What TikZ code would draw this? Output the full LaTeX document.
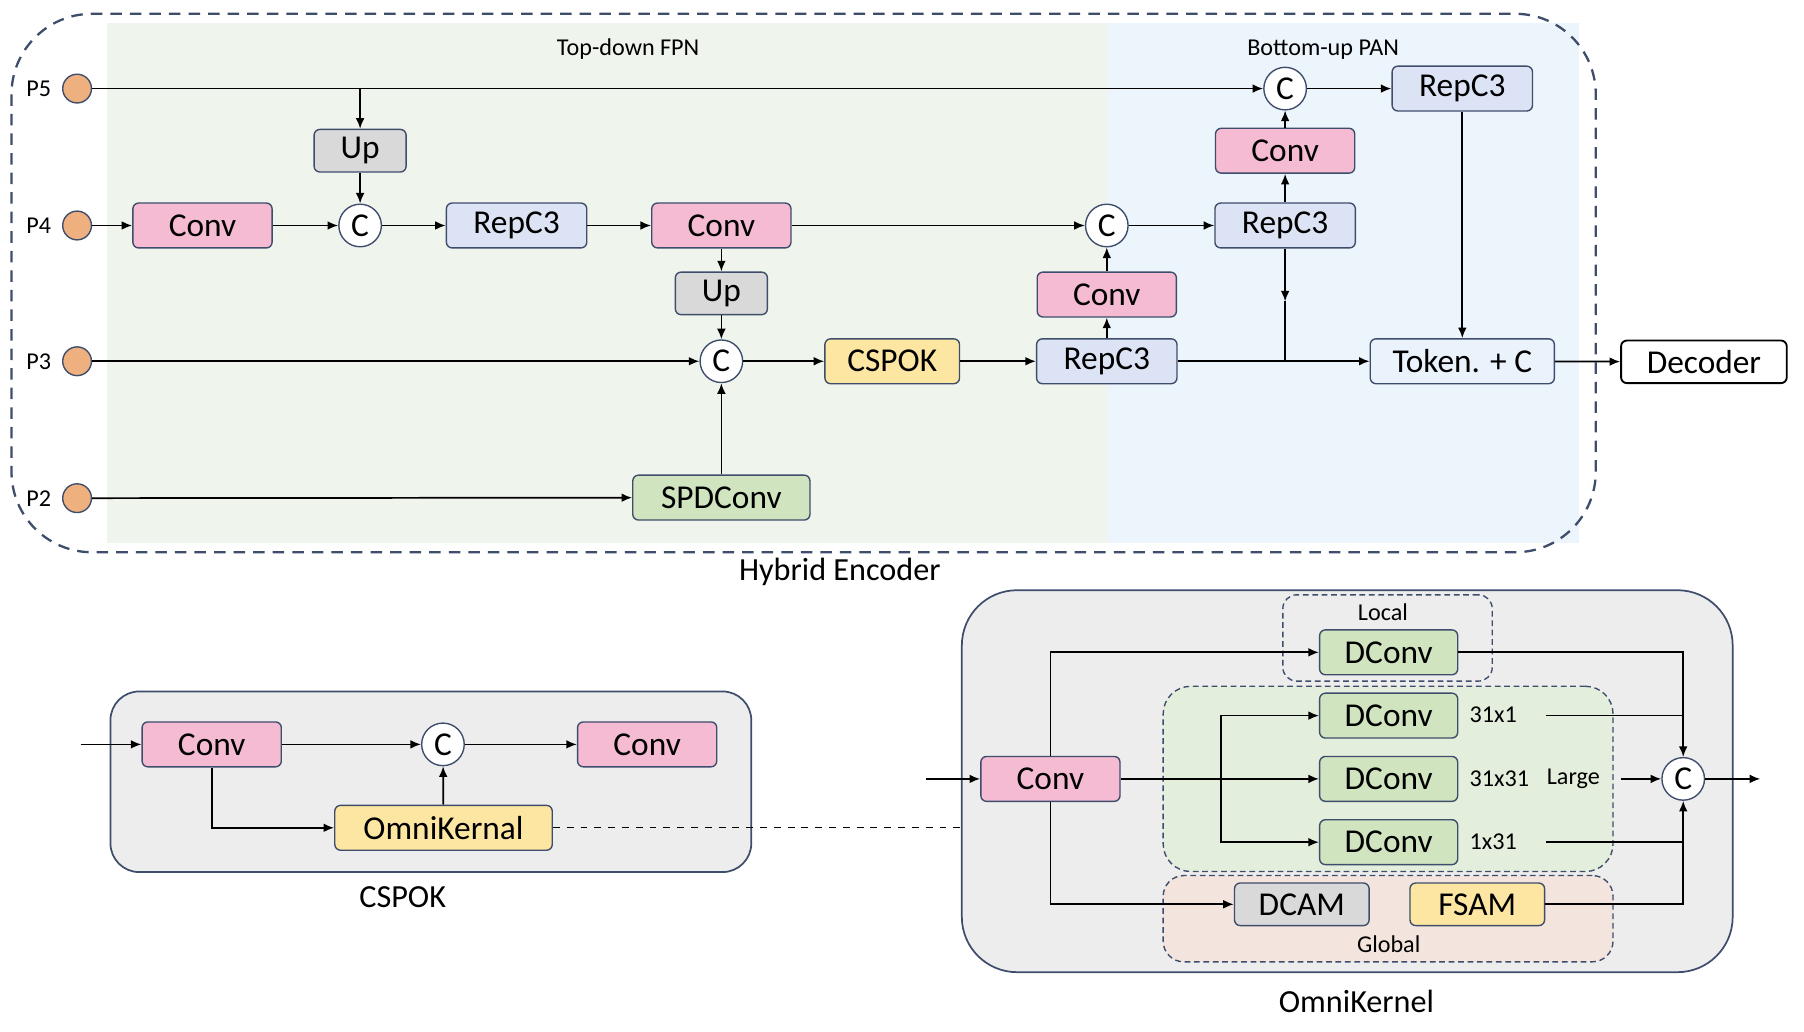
\documentclass[tikz,border=0pt]{standalone}
\usepackage{fontspec}
\setmainfont{Carlito}
\usetikzlibrary{arrows.meta}
\definecolor{navy}{HTML}{3E4D6B}
\definecolor{convpink}{HTML}{F4BBD3}
\definecolor{repblue}{HTML}{DCE3F4}
\definecolor{upgray}{HTML}{D9D9D9}
\definecolor{okyellow}{HTML}{FCE6A2}
\definecolor{dgreen}{HTML}{D0E4BF}
\definecolor{fpngreen}{HTML}{EFF4EC}
\definecolor{panblue}{HTML}{ECF4FC}
\definecolor{pdotorange}{HTML}{EEB07F}
\definecolor{panelgray}{HTML}{EDEDED}
\definecolor{largegreen}{HTML}{E4EEDC}
\definecolor{globalpeach}{HTML}{F3E5DD}
\definecolor{tokblue}{HTML}{EAF2FC}
\tikzset{
  blk/.style={draw=navy, line width=0.6pt, rounded corners=2.5pt, inner sep=0pt,
    minimum height=19.5pt, font=\fontsize{14.5}{17}\selectfont},
  conv/.style={blk, fill=convpink, minimum width=60.5pt},
  rep/.style={blk, fill=repblue, minimum width=61pt},
  upb/.style={blk, fill=upgray, minimum width=40pt, minimum height=18.5pt},
  ybox/.style={blk, fill=okyellow},
  gbox/.style={blk, fill=dgreen},
  cat/.style={circle, draw=navy, fill=white, line width=0.6pt, minimum size=18.5pt,
    inner sep=0pt, font=\fontsize{14.5}{17}\selectfont},
  pdot/.style={circle, draw=navy, fill=pdotorange, line width=0.6pt, minimum size=12.5pt, inner sep=0pt},
  lbl/.style={font=\fontsize{10.5}{12}\selectfont},
  capt/.style={font=\fontsize{14}{16}\selectfont},
  panel/.style={draw=navy, fill=panelgray, line width=0.75pt},
  grp/.style={draw=navy, line width=0.6pt, dash pattern=on 2.5pt off 1.6pt}
}
\begin{document}
\begin{tikzpicture}[x=0.5pt,y=-0.5pt,>={Latex[length=4.6pt,width=3.8pt]},line width=0.75pt]
\useasboundingbox (0,0) rectangle (1568,897);
% Hybrid Encoder
\fill[fpngreen] (93,20) rectangle (962,472); % top-down part
\fill[panblue] (962,20) rectangle (1372,472); % bottom-up part
\draw[navy, line width=1pt, dash pattern=on 5pt off 3.5pt, rounded corners=35pt] (10,12) rectangle (1387,480);
\node[lbl] (fpn) at (546,43) {Top-down FPN};
\node[lbl] (pan) at (1150,43) {Bottom-up PAN};
\node[capt] (enc) at (730,497) {Hybrid Encoder};
\node[pdot, label={[lbl,label distance=1pt]left:P5}] (p5) at (67,77) {};
\node[pdot, label={[lbl,label distance=1pt]left:P4}] (p4) at (67,196) {};
\node[pdot, label={[lbl,label distance=1pt]left:P3}] (p3) at (67,314) {};
\node[pdot, label={[lbl,label distance=1pt]left:P2}] (p2) at (67,433) {};
\node[upb] (up1) at (313,131) {Up};
\node[conv] (conv1) at (176,196) {Conv};
\node[cat] (c1) at (313,196) {C};
\node[rep] (rep1) at (449,196) {RepC3};
\node[conv] (conv2) at (627,196) {Conv};
\node[upb] (up2) at (627,255) {Up};
\node[cat] (c2) at (627,314) {C};
\node[gbox, minimum width=77pt] (spd) at (627,432.5) {SPDConv};
\node[ybox, minimum width=58.5pt] (cspok) at (775.5,314) {CSPOK};
\node[rep] (rep2) at (962,314) {RepC3};
\node[conv] (conv3) at (962,256) {Conv};
\node[cat] (c3) at (962,196) {C};
\node[rep] (rep3) at (1117,196) {RepC3};
\node[conv] (conv4) at (1117,131) {Conv};
\node[cat] (c4) at (1117,77) {C};
\node[rep] (rep4) at (1271,77) {RepC3};
\node[blk, fill=tokblue, minimum width=80pt] (tok) at (1271,314) {Token. + C};
\node[blk, draw=black, fill=white, line width=0.8pt, minimum width=72pt, minimum height=18.5pt] (dec) at (1481,314.5) {Decoder};
\coordinate (jn) at (1117,262); % arrow in the middle of the drop
\draw[->] (p5) -- (c4);
\draw[->] (p5 -| up1) -- (up1);
\draw[->] (up1) -- (c1);
\draw[->] (p4) -- (conv1);
\draw[->] (conv1) -- (c1);
\draw[->] (c1) -- (rep1);
\draw[->] (rep1) -- (conv2);
\draw[->] (conv2) -- (c3);
\draw[->] (conv2) -- (up2);
\draw[->] (up2) -- (c2);
\draw[->] (p3) -- (c2);
\draw[->] (p2) -- (spd);
\draw[->] (spd) -- (c2);
\draw[->] (c2) -- (cspok);
\draw[->] (cspok) -- (rep2);
\draw[->] (rep2) -- (tok);
\draw[->] (rep2) -- (conv3);
\draw[->] (conv3) -- (c3);
\draw[->] (c3) -- (rep3);
\draw[->] (rep3) -- (conv4);
\draw[->] (conv4) -- (c4);
\draw[->] (c4) -- (rep4);
\draw[->] (rep4) -- (tok);
\draw[->] (rep3) -- (jn);
\draw (jn) -- (rep3 |- tok);
\draw[->] (tok) -- (dec);
% CSPOK
\node[panel, rounded corners=12.5pt, minimum width=278.5pt, minimum height=78.5pt] (cspbox) at (374.5,679.5) {};
\node[capt] (csplbl) at (350,780) {CSPOK};
\coordinate (cin) at (70,647);
\node[conv] (ca) at (184,647) {Conv};
\node[cat] (cc) at (385,647) {C};
\node[conv] (cb) at (562.5,647) {Conv};
\node[ybox, minimum width=94.5pt] (ok) at (385.5,719.5) {OmniKernal};
\draw[->] (cin) -- (ca);
\draw[->] (ca) -- (cc);
\draw[->] (cc) -- (cb);
\draw[->] (ok) -- (cc);
\draw[->] (ca) |- (ok);
% OmniKernel
\node[panel, rounded corners=24pt, minimum width=335pt, minimum height=166pt] (omnibox) at (1171,679) {};
\node[capt] (omnilbl) at (1179,870) {OmniKernel};
\draw[dashed, line width=0.6pt] (ok) -- (ok -| omnibox.west);
\node[grp, rounded corners=6pt, minimum width=91pt, minimum height=37.5pt] (loc) at (1206,554.5) {};
\node[grp, fill=largegreen, rounded corners=12pt, minimum width=195.5pt, minimum height=80.5pt] (large) at (1206.5,677) {};
\node[grp, fill=globalpeach, rounded corners=9pt, minimum width=195.5pt, minimum height=37.5pt] (glob) at (1206.5,798.5) {};
\node[lbl] (loclbl) at (1202,532.5) {Local};
\node[lbl] (globlbl) at (1207,820.5) {Global};
\node[conv] (oc) at (913,677) {Conv};
\node[gbox, minimum width=60pt] (dl) at (1207,567) {DConv};
\node[gbox, minimum width=60pt] (d1) at (1207,622) {DConv};
\node[gbox, minimum width=60pt] (d2) at (1207,677) {DConv};
\node[gbox, minimum width=60pt] (d3) at (1207,732) {DConv};
\node[blk, fill=upgray, minimum width=58.5pt, minimum height=18.5pt] (dcam) at (1131.5,786) {DCAM};
\node[ybox, minimum width=58.5pt, minimum height=18.5pt] (fsam) at (1284,786) {FSAM};
\node[cat] (oC) at (1463,677) {C};
\node[lbl, anchor=west] (k1lbl) at (1270,621) {31x1};
\node[lbl, anchor=west] (k2lbl) at (1270,677) {31x31};
\node[lbl, anchor=west] (k3lbl) at (1337,677) {Large};
\node[lbl, anchor=west] (k4lbl) at (1270,732) {1x31};
\coordinate (oin) at (805,677);
\coordinate (oout) at (1530,677);
\coordinate (br) at (1061,677); % split to the strip kernels
\coordinate (k1) at (1344,622);
\coordinate (k2) at (1409,677);
\coordinate (k3) at (1344,732);
\draw[->] (oin) -- (oc);
\draw[->] (oc) -- (d2);
\draw[->] (br) |- (d1);
\draw[->] (br) |- (d3);
\draw[->] (oc) |- (dl);
\draw[->] (oc) |- (dcam);
\draw[->] (dl) -| (oC);
\draw (k1) -- (k1 -| oC);
\draw[->] (k2) -- (oC);
\draw (k3) -- (k3 -| oC);
\draw[->] (fsam) -| (oC);
\draw[->] (oC) -- (oout);
\end{tikzpicture}
\end{document}
